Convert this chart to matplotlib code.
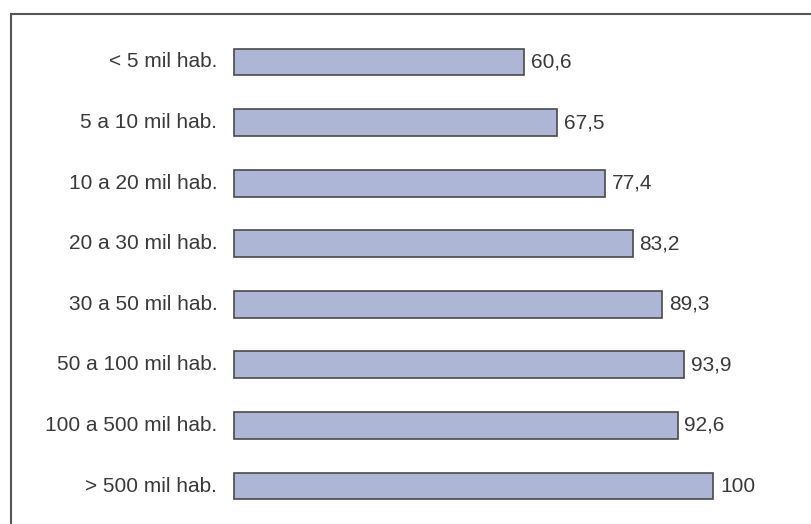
import matplotlib
matplotlib.use("Agg")
import matplotlib.pyplot as plt
from matplotlib.lines import Line2D
from matplotlib.transforms import offset_copy

categories = ["< 5 mil hab.", "5 a 10 mil hab.", "10 a 20 mil hab.", "20 a 30 mil hab.",
              "30 a 50 mil hab.", "50 a 100 mil hab.", "100 a 500 mil hab.", "> 500 mil hab."]
values = [60.6, 67.5, 77.4, 83.2, 89.3, 93.9, 92.6, 100]
value_labels = ["60,6", "67,5", "77,4", "83,2", "89,3", "93,9", "92,6", "100"]

plt.rcParams['font.family'] = ['Liberation Sans', 'DejaVu Sans']

fig = plt.figure(figsize=(8.11, 5.24), dpi=100)
ax = fig.add_axes([234/811, 1-516.3/524, (713-234)/811, (516.3-31.7)/524])

ypos = list(range(len(categories)))
bars = ax.barh(ypos, values, height=0.445, color="#AEB6D6", edgecolor="#4a4a4a", linewidth=1.2)
for b in bars:
    b.set_clip_on(False)
ax.set_xlim(0, 100)
ax.set_ylim(len(categories)-0.5, -0.5)
tr_r = offset_copy(ax.transData, fig=fig, x=5, y=0, units='points')
tr_l = offset_copy(ax.transData, fig=fig, x=-12, y=0, units='points')
for y, v, lab in zip(ypos, values, value_labels):
    ax.text(v, y, lab, va="center", ha="left", fontsize=15, color="#3a3a3a", transform=tr_r)
for y, c in zip(ypos, categories):
    ax.text(0, y, c, va="center", ha="right", fontsize=15, color="#3a3a3a", transform=tr_l)
ax.set_xticks([])
ax.set_yticks([])
for s in ax.spines.values():
    s.set_visible(False)

fig.add_artist(Line2D([11/811, 11/811], [0, 1-14/524], color="#555555", lw=1.5))
fig.add_artist(Line2D([11/811, 1], [1-14/524, 1-14/524], color="#555555", lw=1.5))

fig.savefig("out.png", dpi=100)
